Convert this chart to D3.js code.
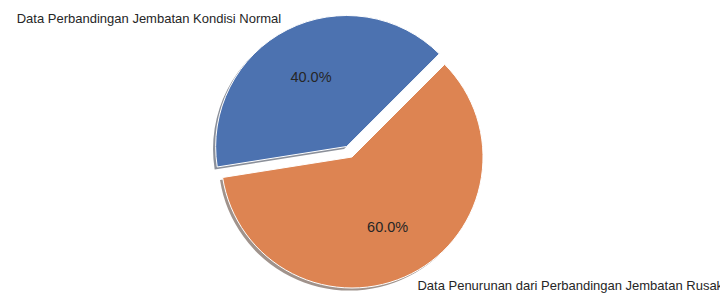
<!DOCTYPE html>
<html>
<head>
<meta charset="utf-8">
<script src="https://cdn.jsdelivr.net/npm/d3@7"></script>
<style>
  body { margin: 0; background: #fff; }
  text { font-family: "Liberation Sans", Arial, sans-serif; fill: #262626; }
</style>
</head>
<body>
<div id="chart-area"></div>
<script>
var labels = ["Data Perbandingan Jembatan Kondisi Normal", "Data Penurunan dari Perbandingan Jembatan Rusak"];
var values = [40, 60];
var explode = [0.09, 0];
var colors = ["#4C72B0", "#DD8452"];

var width = 720;
var height = 293;
var cx = 352, cy = 157, radius = 131;

var svg = d3.select("#chart-area")
    .append("svg")
        .attr("width", width)
        .attr("height", height);

var g = svg.append("g")
    .attr("transform", "translate(" + cx + ", " + cy + ")");

// matplotlib: startangle 45, counterclockwise
var pie = d3.pie().sort(null)
    .startAngle(Math.PI / 4)
    .endAngle(Math.PI / 4 - 2 * Math.PI);

var arcs = pie(values);
var total = d3.sum(values);

var arc = d3.arc().innerRadius(0).outerRadius(radius);

function offset(d, i, k) {
    var mid = (d.startAngle + d.endAngle) / 2;
    return [Math.sin(mid) * radius * k, -Math.cos(mid) * radius * k];
}

// shadows
g.selectAll(".shadow")
    .data(arcs)
    .enter()
    .append("path")
        .attr("class", "shadow")
        .attr("d", arc)
        .attr("transform", (d, i) => {
            var o = offset(d, i, explode[i]);
            return "translate(" + (o[0] - 2.6) + ", " + (o[1] + 2.6) + ")";
        })
        .attr("fill", (d, i) => {
            var c = d3.rgb(colors[i]);
            return d3.rgb(c.r * 0.3, c.g * 0.3, c.b * 0.3);
        })
        .attr("opacity", 0.5);

// wedges
g.selectAll(".wedge")
    .data(arcs)
    .enter()
    .append("path")
        .attr("class", "wedge")
        .attr("d", arc)
        .attr("transform", (d, i) => {
            var o = offset(d, i, explode[i]);
            return "translate(" + o[0] + ", " + o[1] + ")";
        })
        .attr("fill", (d, i) => colors[i])
        .attr("stroke", "#fff")
        .attr("stroke-width", 1);

// outer labels
g.selectAll(".label")
    .data(arcs)
    .enter()
    .append("text")
        .attr("class", "label")
        .attr("x", (d, i) => offset(d, i, explode[i] + 1.1)[0])
        .attr("y", (d, i) => offset(d, i, explode[i] + 1.1)[1])
        .attr("dy", "0.35em")
        .attr("font-size", "13px")
        .attr("text-anchor", (d, i) => offset(d, i, 1)[0] < 0 ? "end" : "start")
        .text((d, i) => labels[i]);

// percentages
var fmt = d3.format(".1%");
g.selectAll(".pct")
    .data(arcs)
    .enter()
    .append("text")
        .attr("class", "pct")
        .attr("x", (d, i) => offset(d, i, explode[i] + 0.6)[0])
        .attr("y", (d, i) => offset(d, i, explode[i] + 0.6)[1])
        .attr("dy", "0.35em")
        .attr("font-size", "14.5px")
        .attr("text-anchor", "middle")
        .text((d) => fmt(d.value / total));
</script>
</body>
</html>
